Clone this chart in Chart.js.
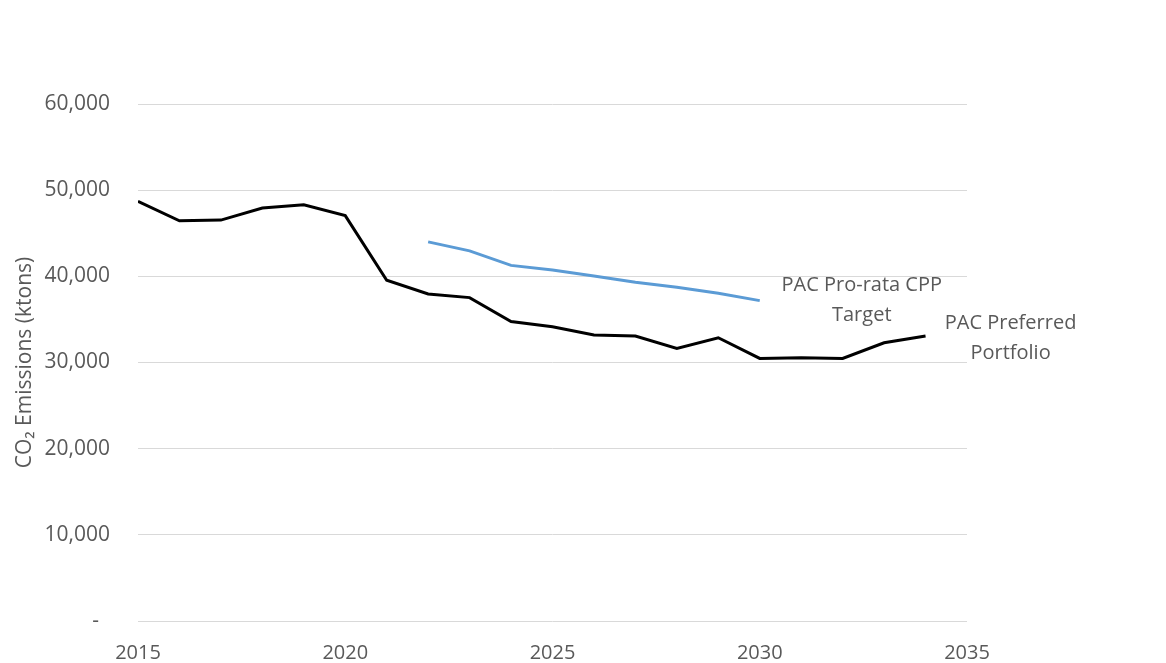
<!DOCTYPE html>
<html>
<head>
<meta charset="utf-8">
<title>CO2 Emissions</title>
<script src="https://cdn.jsdelivr.net/npm/chart.js@4.4.1/dist/chart.umd.min.js"></script>
<style>
	html, body {margin: 0; padding: 0; background: #fff;}
	.canvas {position: relative; width: 1166px; height: 663px;}
</style>
</head>
<body>
<div class="canvas">
	<canvas id="emissions" width="1166" height="663"></canvas>
</div>
<script>
// values (ktons)
const preferredYears = [2015, 2016, 2017, 2018, 2019, 2020, 2021, 2022, 2023, 2024, 2025, 2026, 2027, 2028, 2029, 2030, 2031, 2032, 2033, 2034]
const preferredValues = [48700, 46450, 46530, 47920, 48300, 47050, 39550, 37950, 37530, 34750, 34150, 33200, 33080, 31630, 32870, 30470, 30540, 30470, 32290, 33070]
const targetYears = [2022, 2023, 2024, 2025, 2026, 2027, 2028, 2029, 2030]
const targetValues = [44000, 42960, 41270, 40730, 40030, 39320, 38730, 38030, 37180]
const seriesLabels = [['PAC Preferred', 'Portfolio'], ['PAC Pro-rata CPP', 'Target']]
const yTicks = [0, 10000, 20000, 30000, 40000, 50000, 60000]
const xTicks = [2015, 2020, 2025, 2030, 2035]

const fontFamily = '"Open Sans", "Liberation Sans", sans-serif'
const grey = '#595959'

function toPoints(years, values) {
	return years.map((year, index) => ({x: year, y: values[index]}))
}

// writes each series name next to its last point
const endLabels = {
	id: 'endLabels',
	afterDatasetsDraw(chart) {
		const {ctx, scales: {x, y}} = chart
		const offsets = [{dx: 85, dy: -13}, {dx: 102, dy: -15}]
		ctx.save()
		ctx.font = `20px ${fontFamily}`
		ctx.fillStyle = grey
		ctx.textAlign = 'center'
		ctx.textBaseline = 'middle'
		chart.data.datasets.forEach((dataset, index) => {
			const last = dataset.data[dataset.data.length - 1]
			const px = x.getPixelForValue(last.x) + offsets[index].dx
			const py = y.getPixelForValue(last.y) + offsets[index].dy
			const lines = seriesLabels[index]
			lines.forEach((line, row) => {
				ctx.fillText(line, px, py + row * 30)
			})
		})
		ctx.restore()
	},
}

const ctx = document.getElementById('emissions')
const data = {
	datasets: [{
		label: seriesLabels[0].join(' '),
		data: toPoints(preferredYears, preferredValues),
		borderColor: '#000000',
		backgroundColor: '#000000',
		borderWidth: 3,
		pointRadius: 0,
		tension: 0,
	}, {
		label: seriesLabels[1].join(' '),
		data: toPoints(targetYears, targetValues),
		borderColor: '#5b9bd5',
		backgroundColor: '#5b9bd5',
		borderWidth: 3,
		pointRadius: 0,
		tension: 0,
	}],
}
const config = {
	type: 'line',
	data,
	plugins: [endLabels],
	options: {
		responsive: false,
		animation: false,
		layout: {padding: {top: 104, right: 199, left: 0, bottom: 0}},
		scales: {
			x: {
				type: 'linear',
				min: 2015,
				max: 2035,
				afterBuildTicks: scale => {
					scale.ticks = xTicks.map(value => ({value}))
				},
				afterFit: scale => {
					scale.height = 42
				},
				grid: {display: false},
				border: {display: false},
				ticks: {
					color: grey,
					font: {family: fontFamily, size: 20},
					padding: 12,
					maxRotation: 0,
					callback: value => String(value),
				},
			},
			y: {
				min: 0,
				max: 60000,
				afterBuildTicks: scale => {
					scale.ticks = yTicks.map(value => ({value}))
				},
				afterFit: scale => {
					scale.width = 138
				},
				grid: {color: '#d9d9d9', lineWidth: 1, drawTicks: false},
				border: {display: false},
				ticks: {
					color: grey,
					font: {family: fontFamily, size: 21},
					padding: 28,
					callback: value => value === 0 ? '-  ' : value.toLocaleString('en-US'),
				},
				title: {
					display: true,
					text: 'CO\u2082 Emissions (ktons)',
					color: grey,
					font: {family: fontFamily, size: 21},
					padding: {top: 12, bottom: 0},
				},
			},
		},
		plugins: {
			legend: {display: false},
			tooltip: {enabled: false},
		},
	},
}
new Chart(ctx, config)
</script>
</body>
</html>
